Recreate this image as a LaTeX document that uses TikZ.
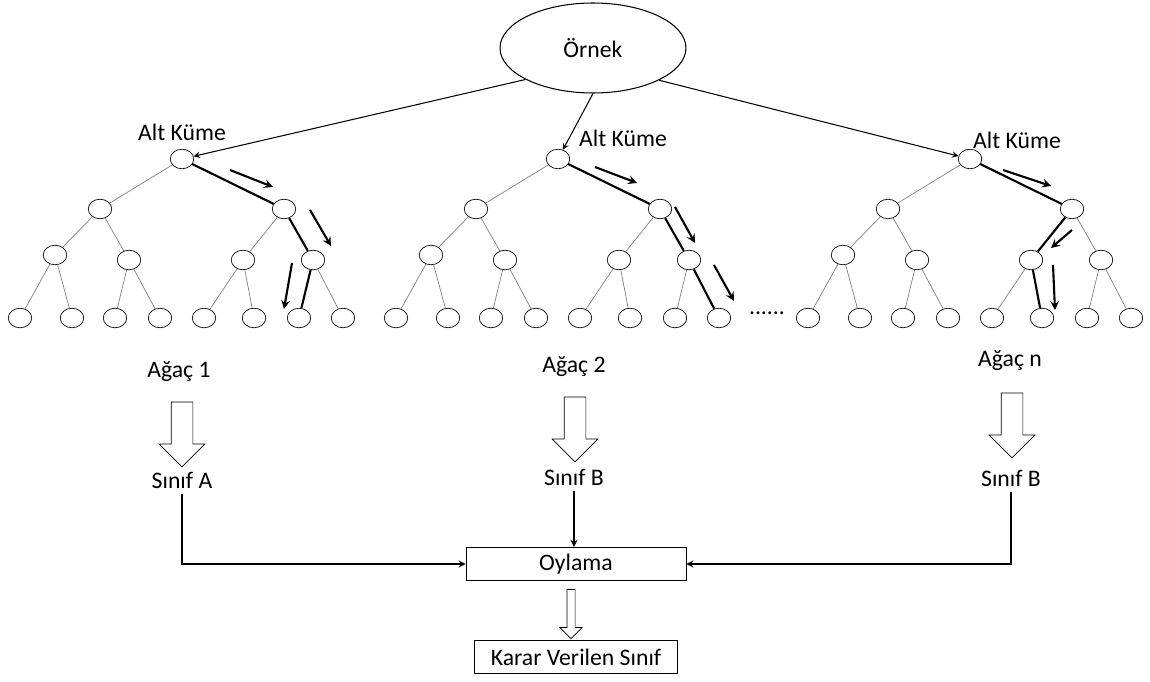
\documentclass[tikz,border=0pt]{standalone}
\usepackage{fontspec}
\setmainfont{Carlito}
\usetikzlibrary{shapes.geometric,shapes.arrows}

\tikzset{
  yaprak/.style={ellipse,draw,thin,minimum width=0.47cm,minimum height=0.39cm,inner sep=0pt},
  dal/.style={draw=gray,thin},
  yol/.style={very thick},
  yon/.style={->,very thick,-stealth},
  ince/.style={->,semithick,-stealth},
  hat/.style={->,thick,-stealth},
  blok/.style={single arrow,draw,thin,shape border rotate=270,inner sep=0.21cm,
    minimum height=1.3cm,single arrow head extend=0.24cm},
  kutu/.style={draw,thin,minimum height=0.67cm}
}

% #1 agac adi, #2 kokun x konumu
\newcommand{\agac}[2]{%
  \node[yaprak] (#1-0) at (#2,159) {};
  \node[yaprak] (#1-1) at ({#2-82},209) {};
  \node[yaprak] (#1-2) at ({#2+102},209) {};
  \node[yaprak] (#1-3) at ({#2-127},255) {};
  \node[yaprak] (#1-4) at ({#2-53},260) {};
  \node[yaprak] (#1-5) at ({#2+61},260) {};
  \node[yaprak] (#1-6) at ({#2+131},260) {};
  \foreach \dx [count=\i from 7] in {-162,-110,-67,-22,22,72,117,161}
    \node[yaprak] (#1-\i) at ({#2+(\dx)},318) {};
  \foreach \k in {1,...,14} {
    \pgfmathtruncatemacro\ata{(\k-1)/2}
    \draw[dal] (#1-\ata) -- (#1-\k);
  }
}

\begin{document}
\begin{tikzpicture}[x=0.02cm,y=-0.02cm,font=\fontsize{13.5}{16}\selectfont]
  \useasboundingbox (0,0) rectangle (1150,682);

  \node[ellipse,draw,semithick,minimum width=3.72cm,minimum height=1.8cm] (ornek) at (593,48) {Örnek};

  \agac{t1}{182}
  \agac{t2}{558}
  \agac{t3}{970}

  \node (alt1) at (182,132) {Alt Küme};
  \node (alt2) at (623,138) {Alt Küme};
  \node (alt3) at (1017,140) {Alt Küme};
  \node (noktalar) at (767,313) {......};

  \draw[ince] (ornek.205) -- (t1-0);
  \draw[ince] (ornek.south) -- (t2-0);
  \draw[ince] (ornek.-26) -- (t3-0);

  % secilen yollar
  \draw[yol] (t1-0) -- (t1-2) -- (t1-6) -- (t1-13);
  \draw[yol] (t2-0) -- (t2-2) -- (t2-6) -- (t2-14);
  \draw[yol] (t3-0) -- (t3-2) -- (t3-5) -- (t3-12);

  \draw[yon] (230,170) -- (273,187);
  \draw[yon] (310,210) -- (331,246);
  \draw[yon] (292,263) -- (284,309);
  \draw[yon] (595,167) -- (637,183);
  \draw[yon] (675,207) -- (695,243);
  \draw[yon] (714,265) -- (734,301);
  \draw[yon] (1003,170) -- (1051,186);
  \draw[yon] (1072,230) -- (1051,248);
  \draw[yon] (1053,265) -- (1055,310);

  \node (agac1) at (179,372) {Ağaç 1};
  \node (agac2) at (574,367) {Ağaç 2};
  \node (agac3) at (1010,361) {Ağaç n};
  \node (sinif1) at (182,480) {Sınıf A};
  \node (sinif2) at (574,477) {Sınıf B};
  \node (sinif3) at (1011,478) {Sınıf B};

  \node[blok] at (182,429) {};
  \node[blok] at (575,424) {};
  \node[blok] at (1012,420) {};

  \node[kutu,minimum width=4.4cm] (oylama) at (576,564) {Oylama};
  \node[kutu,minimum width=4.06cm] (karar) at (576,657) {Karar Verilen Sınıf};
  \node[blok,minimum height=0.98cm,inner sep=0.075cm,single arrow head extend=0.14cm] at (571,612) {};

  \draw[hat] (sinif1) |- (oylama);
  \draw[hat] (sinif2.south) -- (sinif2.south |- oylama.north);
  \draw[hat] (sinif3) |- (oylama);
\end{tikzpicture}
\end{document}
